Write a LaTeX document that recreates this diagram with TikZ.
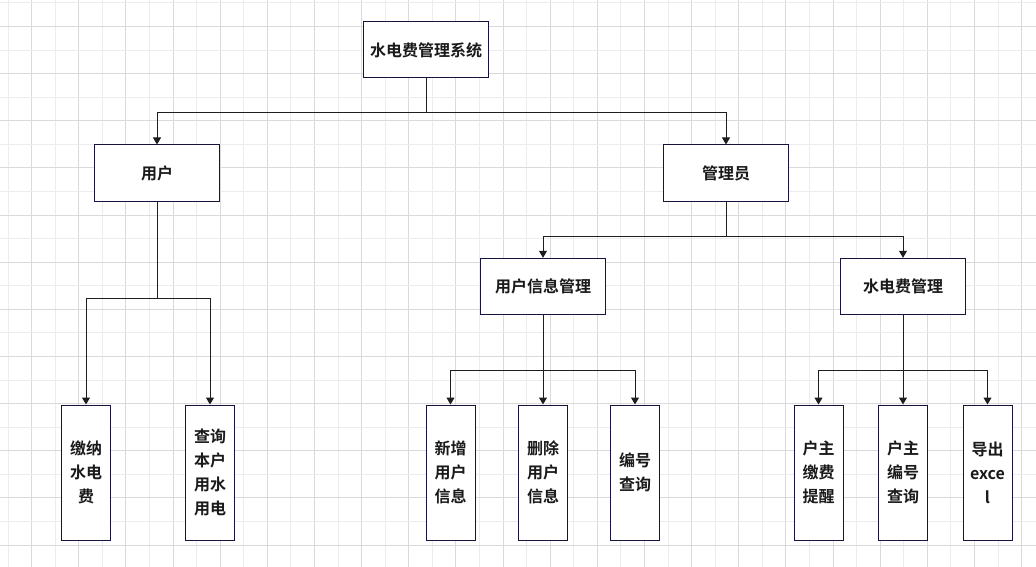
\documentclass[tikz,border=0pt]{standalone}
\usepackage{fontspec}
\setmainfont{Noto Sans CJK SC}[BoldFont={Noto Sans CJK SC Bold}]
\usetikzlibrary{arrows.meta}
\definecolor{gridD}{HTML}{DADADA}
\definecolor{gridL}{HTML}{ECECEC}
\definecolor{boxc}{HTML}{14143C}
\definecolor{linec}{HTML}{1E1E1E}
\definecolor{txtc}{HTML}{1A1A1A}
\tikzset{
  bigbox/.style={draw=boxc, fill=white, line width=1pt, minimum width=125pt, minimum height=56pt, inner sep=0pt, align=center, text=txtc, font=\fontsize{16}{24}\selectfont\bfseries},
  smallbox/.style={draw=boxc, fill=white, line width=1pt, minimum width=49pt, minimum height=135pt, inner sep=0pt, align=center, text=txtc, font=\fontsize{16}{24}\selectfont\bfseries},
  conn/.style={draw=linec, line width=1pt},
  arr/.style={conn, -{Triangle[length=7pt,width=8pt]}},
}
\begin{document}
\begin{tikzpicture}[x=1pt,y=-1pt]
\useasboundingbox (0,0) rectangle (1036,567);
\fill[white] (0,0) rectangle (1036,567);
% grid
\foreach \i in {0,...,43}{
  \pgfmathtruncatemacro{\odd}{mod(\i,2)}
  \ifnum\odd=1 \def\gc{gridD}\else\def\gc{gridL}\fi
  \draw[\gc, line width=1pt] (8.1+\i*23.57,0) -- (8.1+\i*23.57,567);
}
\foreach \i in {0,...,24}{
  \pgfmathtruncatemacro{\odd}{mod(\i,2)}
  \ifnum\odd=1 \def\gc{gridD}\else\def\gc{gridL}\fi
  \draw[\gc, line width=1pt] (0,2.9+\i*23.57) -- (1036,2.9+\i*23.57);
}
% nodes
\node[bigbox] (sys) at (426,50) {水电费管理系统};
\node[bigbox] (user) at (157,173) {用户};
\node[bigbox] (admin) at (726,173) {管理员};
\node[bigbox] (uim) at (543,286.3) {用户信息管理};
\node[bigbox] (wfm) at (903,286.3) {水电费管理};
\node[smallbox] (pay) at (86,472.5) {缴纳\\水电\\费};
\node[smallbox] (qry) at (210,472.5) {查询\\本户\\用水\\用电};
\node[smallbox] (add) at (450.5,472.5) {新增\\用户\\信息};
\node[smallbox] (del) at (543,472.5) {删除\\用户\\信息};
\node[smallbox] (num) at (635,472.5) {编号\\查询};
\node[smallbox] (rem) at (818.5,472.5) {户主\\缴费\\提醒};
\node[smallbox] (hq) at (903,472.5) {户主\\编号\\查询};
\node[smallbox] (exp) at (987.5,472.5) {导出\\exce\\l};
% bus points
\coordinate (b0) at (426,113);
\coordinate (b1) at (157,298);
\coordinate (b2) at (726,236.7);
\coordinate (b3) at (543,370);
\coordinate (b4) at (903,370);
% connectors
\draw[conn] (sys.south) -- (b0);
\draw[arr] (b0) -| (user.north);
\draw[arr] (b0) -| (admin.north);
\draw[conn] (user.south) -- (b1);
\draw[arr] (b1) -| (pay.north);
\draw[arr] (b1) -| (qry.north);
\draw[conn] (admin.south) -- (b2);
\draw[arr] (b2) -| (uim.north);
\draw[arr] (b2) -| (wfm.north);
\draw[conn] (uim.south) -- (b3);
\draw[arr] (b3) -| (add.north);
\draw[arr] (b3) -- (del.north);
\draw[arr] (b3) -| (num.north);
\draw[conn] (wfm.south) -- (b4);
\draw[arr] (b4) -| (rem.north);
\draw[arr] (b4) -- (hq.north);
\draw[arr] (b4) -| (exp.north);
\end{tikzpicture}
\end{document}
